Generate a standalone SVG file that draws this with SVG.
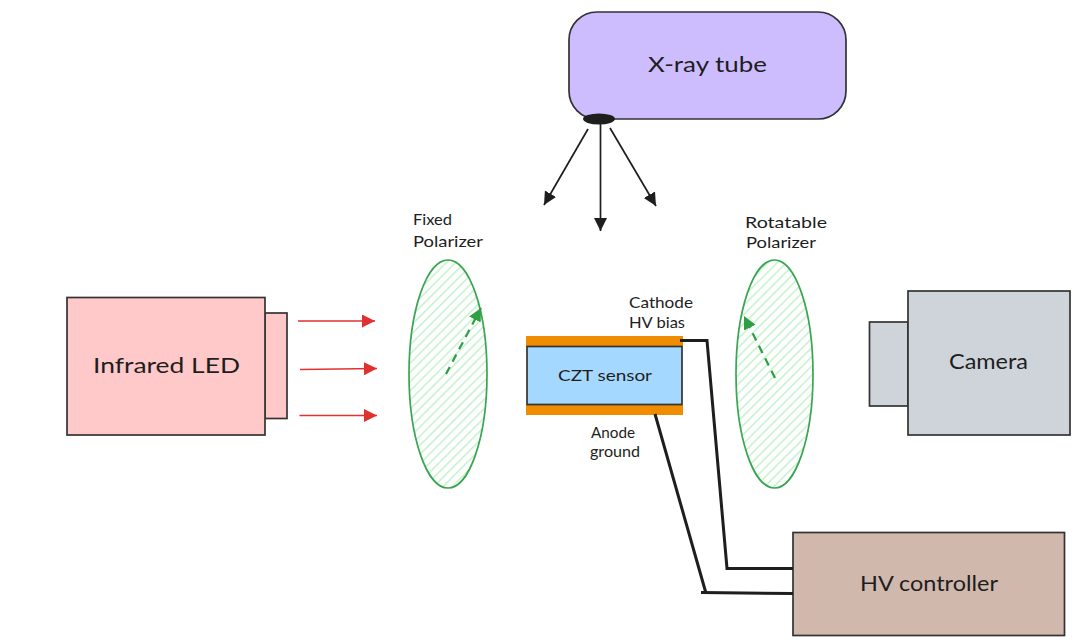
<svg xmlns="http://www.w3.org/2000/svg" width="1081" height="640" viewBox="0 0 1081 640">
<style>
.box{stroke:#333;stroke-width:1.7}
.t{font-family:"Lato","Open Sans",sans-serif;fill:#1e1e1e}
.l{font-size:22px}.m{font-size:15.5px}.s{font-size:15px}
.pol{fill:url(#hatch);stroke:#3aa552;stroke-width:1.7}
.wire{fill:none;stroke:#1e1e1e;stroke-width:3}
.ray{fill:none;stroke:#1e1e1e;stroke-width:1.7;marker-end:url(#ah)}
.ir{fill:none;stroke:#e03131;stroke-width:1.6;marker-end:url(#ar)}
.ax{fill:none;stroke:#2f9e44;stroke-width:2.2;stroke-dasharray:8 6;marker-end:url(#ag)}
</style>
<defs>
<pattern id="hatch" width="6.500" height="6.500" patternUnits="userSpaceOnUse" patternTransform="rotate(45)">
<rect width="6.500" height="6.500" fill="#fff"/><rect x="0" width="1.500" height="6.500" fill="#c4f2cb"/>
</pattern>
<marker id="ah" markerUnits="userSpaceOnUse" markerWidth="16" markerHeight="14" refX="13" refY="6.5" orient="auto"><path d="M0 0L13 6.5L0 13Z" fill="#1e1e1e"/></marker>
<marker id="ar" markerUnits="userSpaceOnUse" markerWidth="16" markerHeight="14" refX="13" refY="6.5" orient="auto"><path d="M0 0L13 6.5L0 13Z" fill="#e03131"/></marker>
<marker id="ag" markerUnits="userSpaceOnUse" markerWidth="16" markerHeight="14" refX="13" refY="6.5" orient="auto"><path d="M0 0L13 6.5L0 13Z" fill="#2f9e44"/></marker>
</defs>
<rect width="1081" height="640" fill="#fff"/>
<g id="xray-tube">
<rect class="box" x="569" y="12" width="277" height="107" rx="28" fill="#cdbdff"/>
<text class="t l" x="648" y="72" textLength="119" lengthAdjust="spacingAndGlyphs">X-ray tube</text>
<ellipse cx="599" cy="119" rx="16" ry="5.5" fill="#1e1e1e"/>
</g>
<g id="infrared-led">
<rect class="box" x="265" y="313" width="22" height="105.500" fill="#ffc9c9"/>
<rect class="box" x="67" y="297.500" width="198" height="137.500" fill="#ffc9c9"/>
<text class="t l" x="93" y="373" textLength="147" lengthAdjust="spacingAndGlyphs">Infrared LED</text>
</g>
<g id="fixed-polarizer">
<ellipse class="pol" cx="448" cy="374" rx="39" ry="114"/>
<text class="t s" x="413" y="225" textLength="39" lengthAdjust="spacingAndGlyphs">Fixed</text>
<text class="t s" x="413" y="247" textLength="70" lengthAdjust="spacingAndGlyphs">Polarizer</text>
</g>
<g id="rotatable-polarizer">
<ellipse class="pol" cx="774.500" cy="374" rx="38.500" ry="114"/>
<text class="t s" x="745" y="228" textLength="82" lengthAdjust="spacingAndGlyphs">Rotatable</text>
<text class="t s" x="746" y="248" textLength="70" lengthAdjust="spacingAndGlyphs">Polarizer</text>
</g>
<g id="czt-sensor">
<rect x="526" y="336" width="157" height="11" fill="#f08c00"/>
<rect x="526" y="405" width="157" height="10" fill="#f08c00"/>
<rect class="box" x="527" y="346.500" width="155" height="58" fill="#a5d8ff"/>
<text class="t m" x="558" y="381" textLength="94" lengthAdjust="spacingAndGlyphs">CZT sensor</text>
<text class="t s" x="629" y="308" textLength="64" lengthAdjust="spacingAndGlyphs">Cathode</text>
<text class="t s" x="629" y="328" textLength="56" lengthAdjust="spacingAndGlyphs">HV bias</text>
<text class="t s" x="591" y="438" textLength="44" lengthAdjust="spacingAndGlyphs">Anode</text>
<text class="t s" x="590" y="457" textLength="50" lengthAdjust="spacingAndGlyphs">ground</text>
</g>
<g id="camera">
<rect class="box" x="869.500" y="322" width="38.500" height="84" fill="#ced4da"/>
<rect class="box" x="908" y="291" width="162" height="144" fill="#ced4da"/>
<text class="t l" x="949" y="369" textLength="79" lengthAdjust="spacingAndGlyphs">Camera</text>
</g>
<g id="hv-controller">
<rect class="box" x="793" y="532.500" width="271.500" height="103" fill="#d0b8ad"/>
<text class="t l" x="860" y="591" textLength="138" lengthAdjust="spacingAndGlyphs">HV controller</text>
</g>
<g id="connectors">
<path class="ray" d="M588 129L544 205"/>
<path class="ray" d="M600.500 124L600.500 231"/>
<path class="ray" d="M610 128L656 206"/>
<path class="ir" d="M298 321L375 321"/>
<path class="ir" d="M300 369.500L377 368.500"/>
<path class="ir" d="M299.500 415.500L377 415.500"/>
<path class="ax" d="M446 374L481 308"/>
<path class="ax" d="M775 378L744 316"/>
<path class="wire" d="M680 340.500L707 340.500L727 568.500L793 568.500"/>
<path class="wire" d="M655 414L705.500 591.500M701 592.500L793 593.500"/>
</g>
</svg>
